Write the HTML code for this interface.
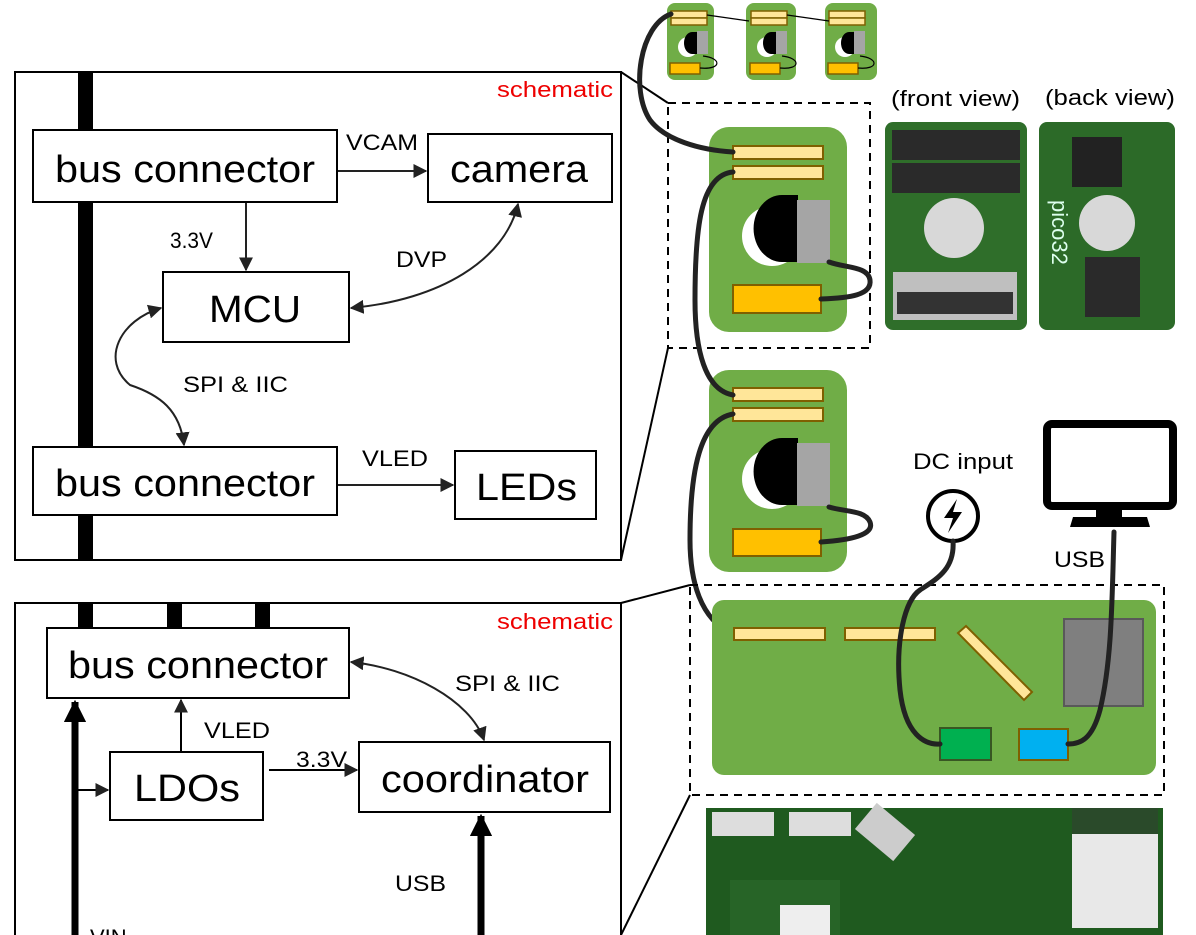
<!DOCTYPE html>
<html><head><meta charset="utf-8"><style>
html,body{margin:0;padding:0;background:#fff;width:1196px;height:935px;overflow:hidden}
svg{display:block}
text{font-family:"Liberation Sans",Arial,sans-serif;fill:#000}
</style></head><body>
<svg width="1196" height="935" viewBox="0 0 1196 935" xmlns="http://www.w3.org/2000/svg">
<defs>
<marker id="a" viewBox="0 0 10 10" refX="9" refY="5" markerWidth="7" markerHeight="7" orient="auto-start-reverse"><path d="M0,0L10,5L0,10z" fill="#222"/></marker>
<marker id="b" viewBox="0 0 10 10" refX="9" refY="5" markerWidth="3.2" markerHeight="3.2" orient="auto-start-reverse"><path d="M0,0L10,5L0,10z" fill="#000"/></marker>
</defs>

<!-- top schematic -->
<rect x="15" y="72" width="606" height="488" fill="#fff" stroke="#000" stroke-width="2"/>
<rect x="78" y="72" width="15" height="488" fill="#000"/>
<text x="497" y="97" font-size="22" textLength="116" lengthAdjust="spacingAndGlyphs" style="fill:#e00">schematic</text>
<g fill="#fff" stroke="#000" stroke-width="2">
<rect x="33" y="130" width="304" height="72"/>
<rect x="428" y="134" width="184" height="68"/>
<rect x="163" y="272" width="186" height="70"/>
<rect x="33" y="447" width="304" height="68"/>
<rect x="455" y="451" width="141" height="68"/>
</g>
<text x="55" y="182" font-size="38" textLength="260" lengthAdjust="spacingAndGlyphs">bus connector</text>
<text x="450" y="182" font-size="38" textLength="138" lengthAdjust="spacingAndGlyphs">camera</text>
<text x="209" y="322" font-size="38" textLength="92" lengthAdjust="spacingAndGlyphs">MCU</text>
<text x="55" y="496" font-size="38" textLength="260" lengthAdjust="spacingAndGlyphs">bus connector</text>
<text x="476" y="500" font-size="38" textLength="101" lengthAdjust="spacingAndGlyphs">LEDs</text>
<g stroke="#222" stroke-width="2" fill="none">
<line x1="338" y1="171" x2="426" y2="171" marker-end="url(#a)"/>
<line x1="246" y1="203" x2="246" y2="270" marker-end="url(#a)"/>
<path d="M351,308 C440,300 505,260 518,204" marker-start="url(#a)" marker-end="url(#a)"/>
<path d="M161,308 C120,320 100,360 130,385 C160,395 180,410 184,445" marker-start="url(#a)" marker-end="url(#a)"/>
<line x1="338" y1="485" x2="453" y2="485" marker-end="url(#a)"/>
</g>
<text x="346" y="150" font-size="22" textLength="72" lengthAdjust="spacingAndGlyphs">VCAM</text>
<text x="170" y="248" font-size="22" textLength="43" lengthAdjust="spacingAndGlyphs">3.3V</text>
<text x="396" y="267" font-size="22" textLength="51" lengthAdjust="spacingAndGlyphs">DVP</text>
<text x="183" y="392" font-size="22" textLength="105" lengthAdjust="spacingAndGlyphs">SPI &amp; IIC</text>
<text x="362" y="466" font-size="22" textLength="66" lengthAdjust="spacingAndGlyphs">VLED</text>

<!-- zoom lines top -->
<line x1="621" y1="72" x2="668" y2="103" stroke="#000" stroke-width="2"/>
<line x1="621" y1="560" x2="668" y2="348" stroke="#000" stroke-width="2"/>

<!-- bottom schematic -->
<rect x="15" y="603" width="606" height="340" fill="#fff" stroke="#000" stroke-width="2"/>
<rect x="78" y="603" width="15" height="26" fill="#000"/>
<rect x="167" y="603" width="15" height="26" fill="#000"/>
<rect x="255" y="603" width="15" height="26" fill="#000"/>
<text x="497" y="629" font-size="22" textLength="116" lengthAdjust="spacingAndGlyphs" style="fill:#e00">schematic</text>
<g fill="#fff" stroke="#000" stroke-width="2">
<rect x="47" y="628" width="302" height="70"/>
<rect x="359" y="742" width="251" height="70"/>
<rect x="110" y="752" width="153" height="68"/>
</g>
<text x="68" y="678" font-size="38" textLength="260" lengthAdjust="spacingAndGlyphs">bus connector</text>
<text x="381" y="792" font-size="38" textLength="208" lengthAdjust="spacingAndGlyphs">coordinator</text>
<text x="134" y="801" font-size="38" textLength="106" lengthAdjust="spacingAndGlyphs">LDOs</text>
<g stroke="#000" fill="none">
<line x1="75" y1="940" x2="75" y2="702" stroke-width="7" marker-end="url(#b)"/>
<line x1="75" y1="790" x2="108" y2="790" stroke-width="2" marker-end="url(#a)"/>
<line x1="181" y1="751" x2="181" y2="700" stroke-width="2" marker-end="url(#a)"/>
<line x1="269" y1="770" x2="357" y2="770" stroke-width="2" marker-end="url(#a)"/>
<path d="M351,662 C410,668 470,700 484,740" stroke="#222" stroke-width="2" marker-start="url(#a)" marker-end="url(#a)"/>
<line x1="481" y1="940" x2="481" y2="816" stroke-width="7" marker-end="url(#b)"/>
</g>
<text x="204" y="738" font-size="22" textLength="66" lengthAdjust="spacingAndGlyphs">VLED</text>
<text x="296" y="767" font-size="22" textLength="51" lengthAdjust="spacingAndGlyphs">3.3V</text>
<text x="455" y="691" font-size="22" textLength="105" lengthAdjust="spacingAndGlyphs">SPI &amp; IIC</text>
<text x="395" y="891" font-size="22" textLength="51" lengthAdjust="spacingAndGlyphs">USB</text>
<text x="90" y="945" font-size="22">VIN</text>

<!-- zoom lines bottom -->
<line x1="621" y1="603" x2="690" y2="585" stroke="#000" stroke-width="2"/>
<line x1="621" y1="935" x2="690" y2="795" stroke="#000" stroke-width="2"/>

<!-- small boards -->
<g>
<rect x="667" y="3" width="47" height="77" rx="8" fill="#70ad47"/>
<rect x="746" y="3" width="50" height="77" rx="8" fill="#70ad47"/>
<rect x="825" y="3" width="52" height="77" rx="8" fill="#70ad47"/>
<g fill="#ffe699" stroke="#7f6000" stroke-width="1.5">
<rect x="671" y="11" width="36" height="7"/><rect x="671" y="18" width="36" height="7"/>
<rect x="751" y="11" width="36" height="7"/><rect x="751" y="18" width="36" height="7"/>
<rect x="829" y="11" width="36" height="7"/><rect x="829" y="18" width="36" height="7"/>
</g>
<g fill="#ffc000" stroke="#7f6000" stroke-width="1.5">
<rect x="670" y="63" width="30" height="11"/><rect x="750" y="63" width="30" height="11"/><rect x="828" y="63" width="30" height="11"/>
</g>
<g fill="#fff"><circle cx="688" cy="47" r="10"/><circle cx="767" cy="47" r="10"/><circle cx="845" cy="47" r="10"/></g>
<g fill="#000">
<path d="M697,32 L692,32 A8,11 0 0 0 692,54 L697,54 z"/>
<path d="M776,32 L771,32 A8,11 0 0 0 771,54 L776,54 z"/>
<path d="M854,32 L849,32 A8,11 0 0 0 849,54 L854,54 z"/>
</g>
<g fill="#a5a5a5"><rect x="697" y="31" width="11" height="23"/><rect x="776" y="31" width="11" height="23"/><rect x="854" y="31" width="11" height="23"/></g>
<g stroke="#000" stroke-width="1.2" fill="none">
<path d="M707,15 L749,21"/><path d="M787,15 L829,21"/>
<path d="M703,56 C722,58 722,70 700,68"/><path d="M782,56 C801,58 801,70 780,68"/><path d="M860,56 C879,58 879,70 858,68"/>
</g>
</g>

<!-- dashed box 1 -->
<rect x="668" y="103" width="202" height="245" fill="none" stroke="#000" stroke-width="2" stroke-dasharray="8,6"/>
<rect x="709" y="127" width="138" height="205" rx="20" fill="#70ad47"/>
<rect x="733" y="146" width="90" height="13" fill="#ffe699" stroke="#7f6000" stroke-width="2"/>
<rect x="733" y="166" width="90" height="13" fill="#ffe699" stroke="#7f6000" stroke-width="2"/>
<rect x="733" y="285" width="88" height="28" fill="#ffc000" stroke="#7f6000" stroke-width="2"/>
<circle cx="772" cy="236" r="30" fill="#fff"/>
<path d="M798,195 L782,195 A28,33 0 0 0 782,262 L798,262 z" fill="#000"/>
<rect x="797" y="200" width="33" height="63" fill="#a5a5a5"/>

<rect x="709" y="370" width="138" height="202" rx="20" fill="#70ad47"/>
<rect x="733" y="388" width="90" height="13" fill="#ffe699" stroke="#7f6000" stroke-width="2"/>
<rect x="733" y="408" width="90" height="13" fill="#ffe699" stroke="#7f6000" stroke-width="2"/>
<rect x="733" y="529" width="88" height="27" fill="#ffc000" stroke="#7f6000" stroke-width="2"/>
<circle cx="772" cy="479" r="30" fill="#fff"/>
<path d="M798,438 L782,438 A28,33 0 0 0 782,505 L798,505 z" fill="#000"/>
<rect x="797" y="443" width="33" height="63" fill="#a5a5a5"/>

<!-- photos -->
<text x="891" y="106" font-size="22" textLength="129" lengthAdjust="spacingAndGlyphs">(front view)</text>
<text x="1045" y="105" font-size="22" textLength="130" lengthAdjust="spacingAndGlyphs">(back view)</text>
<rect x="885" y="122" width="142" height="208" rx="8" fill="#2f6e2a"/>
<rect x="892" y="130" width="128" height="30" fill="#2a2a2a"/>
<rect x="892" y="163" width="128" height="30" fill="#2a2a2a"/>
<circle cx="954" cy="228" r="30" fill="#d8d8d8"/>
<rect x="893" y="272" width="124" height="48" fill="#bfbfbf"/>
<rect x="897" y="292" width="116" height="22" fill="#333"/>
<rect x="1039" y="122" width="136" height="208" rx="8" fill="#2c6a28"/>
<rect x="1072" y="137" width="50" height="50" fill="#222"/>
<circle cx="1107" cy="223" r="28" fill="#d8d8d8"/>
<rect x="1085" y="257" width="55" height="60" fill="#2a2a2a"/>
<text x="1052" y="200" font-size="22" style="fill:#dfe" transform="rotate(90 1052 200)">pico32</text>

<!-- cables -->
<g stroke="#222" stroke-width="5" fill="none" stroke-linecap="round">
<path d="M671,14 C640,25 630,90 650,120 C665,140 700,150 733,152"/>
<path d="M733,172 C700,175 695,230 695,300 C695,350 705,390 733,395"/>
<path d="M821,299 C850,298 872,295 870,280 C868,266 845,268 829,262"/>
<path d="M733,414 C700,420 690,470 690,540 C690,580 700,620 733,634"/>
<path d="M821,542 C850,540 875,535 870,522 C865,510 845,512 829,507"/>
</g>

<!-- DC input & monitor -->
<text x="913" y="469" font-size="22" textLength="100" lengthAdjust="spacingAndGlyphs">DC input</text>
<circle cx="953" cy="516" r="25" fill="#fff" stroke="#000" stroke-width="4"/>
<path d="M957,499 L944,518 L953,518 L948,533 L962,512 L953,512 z" fill="#000"/>
<rect x="1047" y="424" width="126" height="82" rx="5" fill="#fff" stroke="#000" stroke-width="8"/>
<rect x="1096" y="510" width="26" height="7" fill="#000"/>
<path d="M1073,517 L1147,517 L1150,527 L1070,527 z" fill="#000"/>
<text x="1054" y="567" font-size="22" textLength="51" lengthAdjust="spacingAndGlyphs">USB</text>

<!-- dashed box 2 -->
<rect x="690" y="585" width="474" height="210" fill="none" stroke="#000" stroke-width="2" stroke-dasharray="8,6"/>
<rect x="712" y="600" width="444" height="175" rx="12" fill="#70ad47"/>
<rect x="734" y="628" width="91" height="12" fill="#ffe699" stroke="#7f6000" stroke-width="2"/>
<rect x="845" y="628" width="90" height="12" fill="#ffe699" stroke="#7f6000" stroke-width="2"/>
<path d="M958,633 L966,626 L1032,692 L1024,700 z" fill="#ffe699" stroke="#7f6000" stroke-width="2"/>
<rect x="1064" y="619" width="79" height="87" fill="#7f7f7f" stroke="#595959" stroke-width="2"/>
<rect x="940" y="728" width="51" height="32" fill="#00b050" stroke="#385723" stroke-width="2"/>
<rect x="1019" y="729" width="49" height="31" fill="#00b0f0" stroke="#7f6000" stroke-width="2"/>
<g stroke="#222" stroke-width="5" fill="none" stroke-linecap="round">
<path d="M953,541 C955,570 935,580 920,590 C905,600 895,640 900,690 C905,735 925,745 940,744"/>
<path d="M1114,532 C1112,600 1112,660 1100,710 C1092,740 1080,744 1068,744"/>
</g>

<!-- bottom photo -->
<rect x="706" y="808" width="457" height="127" fill="#1f5a1f"/>
<rect x="712" y="812" width="62" height="24" fill="#ddd"/>
<rect x="789" y="812" width="62" height="24" fill="#ddd"/>
<rect x="860" y="815" width="50" height="34" fill="#ccc" transform="rotate(40 885 832)"/>
<rect x="1072" y="808" width="86" height="120" fill="#e8e8e8"/>
<rect x="1072" y="808" width="86" height="26" fill="#2a4a2a"/>
<rect x="730" y="880" width="110" height="55" fill="#2d6b2d" opacity=".6"/>
<rect x="780" y="905" width="50" height="30" fill="#eee"/>
</svg>
</body></html>
